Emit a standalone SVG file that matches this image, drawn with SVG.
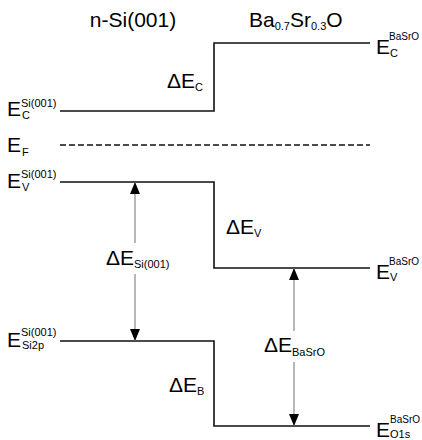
<svg xmlns="http://www.w3.org/2000/svg" width="422" height="440" viewBox="0 0 422 440">
<defs>
<style>
text{font-family:"Liberation Sans",Arial,sans-serif;fill:#000}
.t{font-size:21px}
.b{font-size:21px}
.s{font-size:11px}
.r{font-size:10px}
.lvl{fill:none;stroke:#111;stroke-width:1.6}
.dash{fill:none;stroke:#111;stroke-width:1.4;stroke-dasharray:6 3}
.arr{stroke:#888;stroke-width:1.2;marker-end:url(#ah)}
</style>
<marker id="ah" viewBox="0 0 12 10" refX="12" refY="5" markerWidth="12" markerHeight="10" orient="auto" markerUnits="userSpaceOnUse">
<path d="M0,0 L12,5 L0,10 z" fill="#000"/>
</marker>
</defs>
<rect width="422" height="440" fill="#fff"/>
<g id="titles">
<text class="t" x="133" y="27" text-anchor="middle">n-Si(001)</text>
<text class="t" x="249" y="27">Ba<tspan class="s" dy="3">0.7</tspan><tspan dy="-3">Sr</tspan><tspan class="s" dy="3">0.3</tspan><tspan dy="-3">O</tspan></text>
</g>
<g id="connectors">
<path class="lvl" d="M60,111 H214 V43 H370"/>
<path class="dash" d="M60,145 H370"/>
<path class="lvl" d="M60,182 H214 V268 H370"/>
<path class="lvl" d="M60,341 H214 V426 H370"/>
<line class="arr" x1="135" y1="243" x2="135" y2="182"/>
<line class="arr" x1="135" y1="274" x2="135" y2="341"/>
<line class="arr" x1="294" y1="331" x2="294" y2="268"/>
<line class="arr" x1="294" y1="362" x2="294" y2="426"/>
</g>
<g id="label-Ec-Si">
<text class="b" x="7" y="116">E<tspan class="s" x="21" y="107">Si(001)</tspan><tspan class="s" x="22" y="119">C</tspan></text>
</g>
<g id="label-EF">
<text class="b" x="7" y="152">E<tspan class="s" x="22" y="156">F</tspan></text>
</g>
<g id="label-Ev-Si">
<text class="b" x="7" y="188">E<tspan class="s" x="21" y="178">Si(001)</tspan><tspan class="s" x="22" y="191">V</tspan></text>
</g>
<g id="label-Esi2p">
<text class="b" x="7" y="347">E<tspan class="s" x="21" y="336">Si(001)</tspan><tspan class="s" x="22" y="349">Si2p</tspan></text>
</g>
<g id="label-Ec-BaSrO">
<text class="b" x="376" y="54">E<tspan class="r" x="389" y="40">BaSrO</tspan><tspan class="s" x="390" y="57">C</tspan></text>
</g>
<g id="label-Ev-BaSrO">
<text class="b" x="376" y="279">E<tspan class="r" x="389" y="265">BaSrO</tspan><tspan class="s" x="390" y="281">V</tspan></text>
</g>
<g id="label-EO1s">
<text class="b" x="376" y="437">E<tspan class="r" x="390" y="423">BaSrO</tspan><tspan class="s" x="390" y="438">O1s</tspan></text>
</g>
<g id="dEc">
<text class="b" x="167" y="88">ΔE<tspan class="s" x="195" y="91">C</tspan></text>
</g>
<g id="dEv">
<text class="b" x="226" y="234">ΔE<tspan class="s" x="254" y="237">V</tspan></text>
</g>
<g id="dEb">
<text class="b" x="169" y="392">ΔE<tspan class="s" x="197" y="395">B</tspan></text>
</g>
<g id="dEsi">
<text class="b" x="106" y="265">ΔE<tspan class="s" x="134" y="268">Si(001)</tspan></text>
</g>
<g id="dEbaSrO">
<text class="b" x="264" y="352">ΔE<tspan class="s" x="292" y="356">BaSrO</tspan></text>
</g>
</svg>
